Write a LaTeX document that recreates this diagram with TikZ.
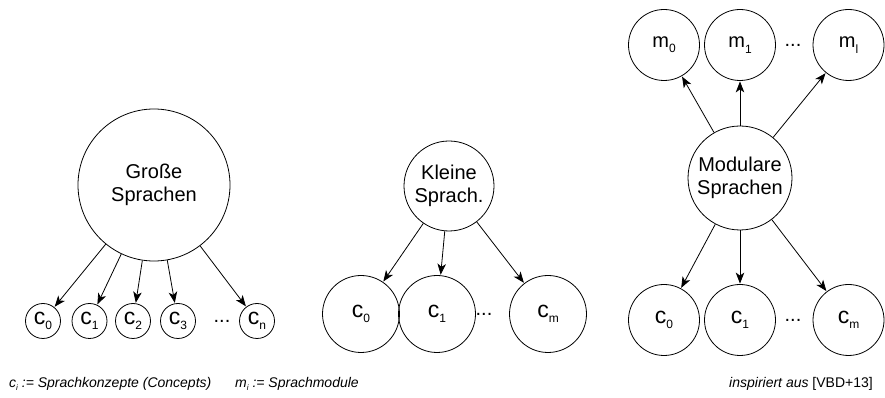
\documentclass[tikz,border=0pt]{standalone}
\usepackage{fontspec}
\setmainfont{Liberation Sans}
\usetikzlibrary{arrows.meta}
\tikzset{
  langnode/.style={circle, draw=black, line width=0.8pt, inner sep=0pt, align=center, font=\fontsize{20}{23}\selectfont},
  concept/.style={circle, draw=black, line width=0.8pt, inner sep=0pt, font=\fontsize{20}{23}\selectfont},
  gap/.style={inner sep=0pt, font=\fontsize{20}{23}\selectfont},
  link/.style={draw=black, line width=0.8pt, -{Stealth[length=11pt, width=8.5pt, inset=3pt]}, shorten >=0.5pt},
  legend/.style={inner sep=0pt, font=\fontsize{14}{16}\selectfont\itshape},
}
% lowered index as in the node labels
\newcommand{\idx}[1]{\raisebox{-0.5ex}{\fontsize{12}{12}\selectfont #1}}
\newcommand{\cc}[1]{{\fontsize{23}{23}\selectfont c}\idx{#1}}
\newcommand{\mm}[1]{m\idx{#1}}

\begin{document}
\begin{tikzpicture}[x=1pt, y=1pt]
\useasboundingbox (0,0) rectangle (885,398);
% large languages
\node[langnode, minimum size=152pt] (big) at (154,213) {Große\\Sprachen};
\node[concept, minimum size=35pt] (bc0) at (43,77) {\cc{0}};
\node[concept, minimum size=35pt] (bc1) at (89.5,77) {\cc{1}};
\node[concept, minimum size=35pt] (bc2) at (133,77) {\cc{2}};
\node[concept, minimum size=35pt] (bc3) at (178,77) {\cc{3}};
\node[gap] (bdots) at (222,77) {...};
\node[concept, minimum size=35pt] (bcn) at (257,77) {\cc{n}};
\draw[link] (big) -- (bc0);
\draw[link] (big) -- (bc1);
\draw[link] (big) -- (bc2);
\draw[link] (big) -- (bc3);
\draw[link] (big) -- (bcn);
% small languages
\node[langnode, minimum size=90pt] (small) at (449,212) {Kleine\\Sprach.};
\node[concept, minimum size=77pt] (sc0) at (361,84) {\cc{0}};
\node[concept, minimum size=77pt] (sc1) at (437,84) {\cc{1}};
\node[gap] (sdots) at (484,84) {...};
\node[concept, minimum size=77pt] (scm) at (548,84) {\cc{m}};
\draw[link] (small) -- (sc0);
\draw[link] (small) -- (sc1);
\draw[link] (small) -- (scm);
% modular languages
\node[langnode, minimum size=104pt] (mod) at (740,220) {Modulare\\Sprachen};
\node[concept, minimum size=71pt] (m0) at (664,353) {\mm{0}};
\node[concept, minimum size=71pt] (m1) at (740,353) {\mm{1}};
\node[gap] (mdots) at (793,353) {...};
\node[concept, minimum size=71pt] (ml) at (848.5,353) {\mm{l}};
\node[concept, minimum size=71pt] (mc0) at (664,78) {\cc{0}};
\node[concept, minimum size=71pt] (mc1) at (740,78) {\cc{1}};
\node[gap] (cdots) at (793,78) {...};
\node[concept, minimum size=71pt] (mcm) at (848.5,78) {\cc{m}};
\draw[link] (mod) -- (m0);
\draw[link] (mod) -- (m1);
\draw[link] (mod) -- (ml);
\draw[link] (mod) -- (mc0);
\draw[link] (mod) -- (mc1);
\draw[link] (mod) -- (mcm);
% legend
\node[legend, anchor=base west] (legc) at (9,10) {c\raisebox{-0.4ex}{\fontsize{8}{8}\selectfont i} := Sprachkonzepte (Concepts)};
\node[legend, anchor=base west] (legm) at (235,10) {m\raisebox{-0.4ex}{\fontsize{8}{8}\selectfont i} := Sprachmodule};
\node[legend, anchor=base east] (src) at (873,10) {inspiriert aus \upshape[VBD+13]};
\end{tikzpicture}
\end{document}
